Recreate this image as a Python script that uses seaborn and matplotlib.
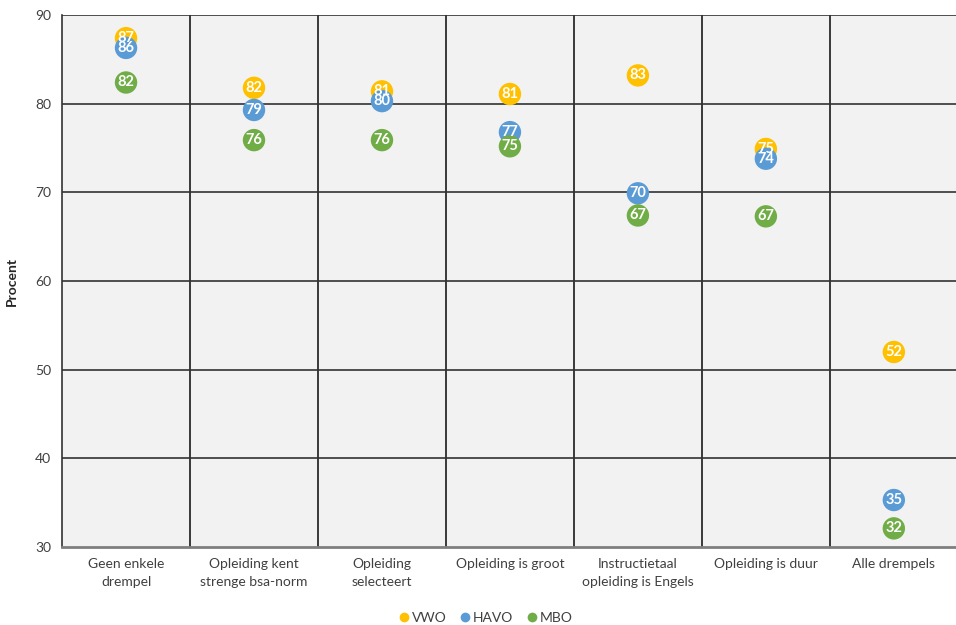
import matplotlib
matplotlib.use("Agg")
import matplotlib.pyplot as plt
import seaborn as sns
import pandas as pd
from matplotlib.lines import Line2D

categories = ["Geen enkele\ndrempel", "Opleiding kent\nstrenge bsa-norm", "Opleiding\nselecteert",
              "Opleiding is groot", "Instructietaal\nopleiding is Engels", "Opleiding is duur",
              "Alle drempels"]
vwo = [87.4, 81.8, 81.4, 81.1, 83.2, 74.9, 52.0]
havo = [86.3, 79.3, 80.3, 76.8, 69.9, 73.8, 35.3]
mbo = [82.4, 75.9, 75.9, 75.2, 67.4, 67.3, 32.1]
series = ["VWO", "HAVO", "MBO"]
colors = {"VWO": "#FFC000", "HAVO": "#5B9BD5", "MBO": "#70AD47"}
yticks = [30, 40, 50, 60, 70, 80, 90]

rows = []
for name, vals in zip(series, [vwo, havo, mbo]):
    for i, v in enumerate(vals):
        rows.append({"x": i, "cat": categories[i], "value": v, "serie": name})
df = pd.DataFrame(rows)

sns.set_style("white")
plt.rcParams["font.family"] = ["Lato", "DejaVu Sans"]

fig = plt.figure(figsize=(9.56, 6.25), dpi=100)
ax = fig.add_axes([0.0649, 0.1248, 0.937, 0.851])
ax.set_facecolor("#F2F2F2")

sns.scatterplot(data=df, x="x", y="value", hue="serie", palette=colors, hue_order=series,
                s=260, edgecolor="none", linewidth=0, ax=ax, legend=False, zorder=3)
for _, r in df.iterrows():
    ax.text(r["x"], r["value"], f"{int(round(r['value']))}", ha="center", va="center",
            color="white", fontsize=10.5, fontweight="bold", zorder=5)

ax.set_xlim(-0.5, len(categories) - 0.5)
ax.set_ylim(30, 90)
ax.set_yticks(yticks)
ax.set_yticklabels([str(t) for t in yticks], fontsize=10, color="#404040")
ax.set_xticks(range(len(categories)))
ax.set_xticklabels(categories, fontsize=10, color="#404040", linespacing=1.6)
ax.tick_params(axis="both", length=0, pad=8)
for b in [i + 0.5 for i in range(len(categories) - 1)]:
    ax.axvline(b, color="#1a1a1a", lw=1.2, zorder=1)
for t in yticks[1:-1]:
    ax.axhline(t, color="#333333", lw=1.2, zorder=1)
ax.axhline(90, color="#333333", lw=1.2, zorder=1)
for s in ["left", "right"]:
    ax.spines[s].set_color("#333333")
    ax.spines[s].set_linewidth(1.2)
ax.spines["top"].set_visible(False)
ax.spines["bottom"].set_color("#7f7f7f")
ax.spines["bottom"].set_linewidth(2)
ax.set_xlabel("")
ax.set_ylabel("Procent", fontsize=10, fontweight="bold", color="#262626", labelpad=12)

handles = [Line2D([0], [0], marker="o", linestyle="", markersize=7, markerfacecolor=colors[n],
                  markeredgewidth=0, label=n) for n in series]
fig.legend(handles=handles, loc="center", bbox_to_anchor=(0.505, 0.012), ncol=3, frameon=False,
           fontsize=10, handletextpad=-0.2, columnspacing=0.6, handlelength=1.5,
           labelcolor="#404040")

fig.savefig("out.png", dpi=100)
